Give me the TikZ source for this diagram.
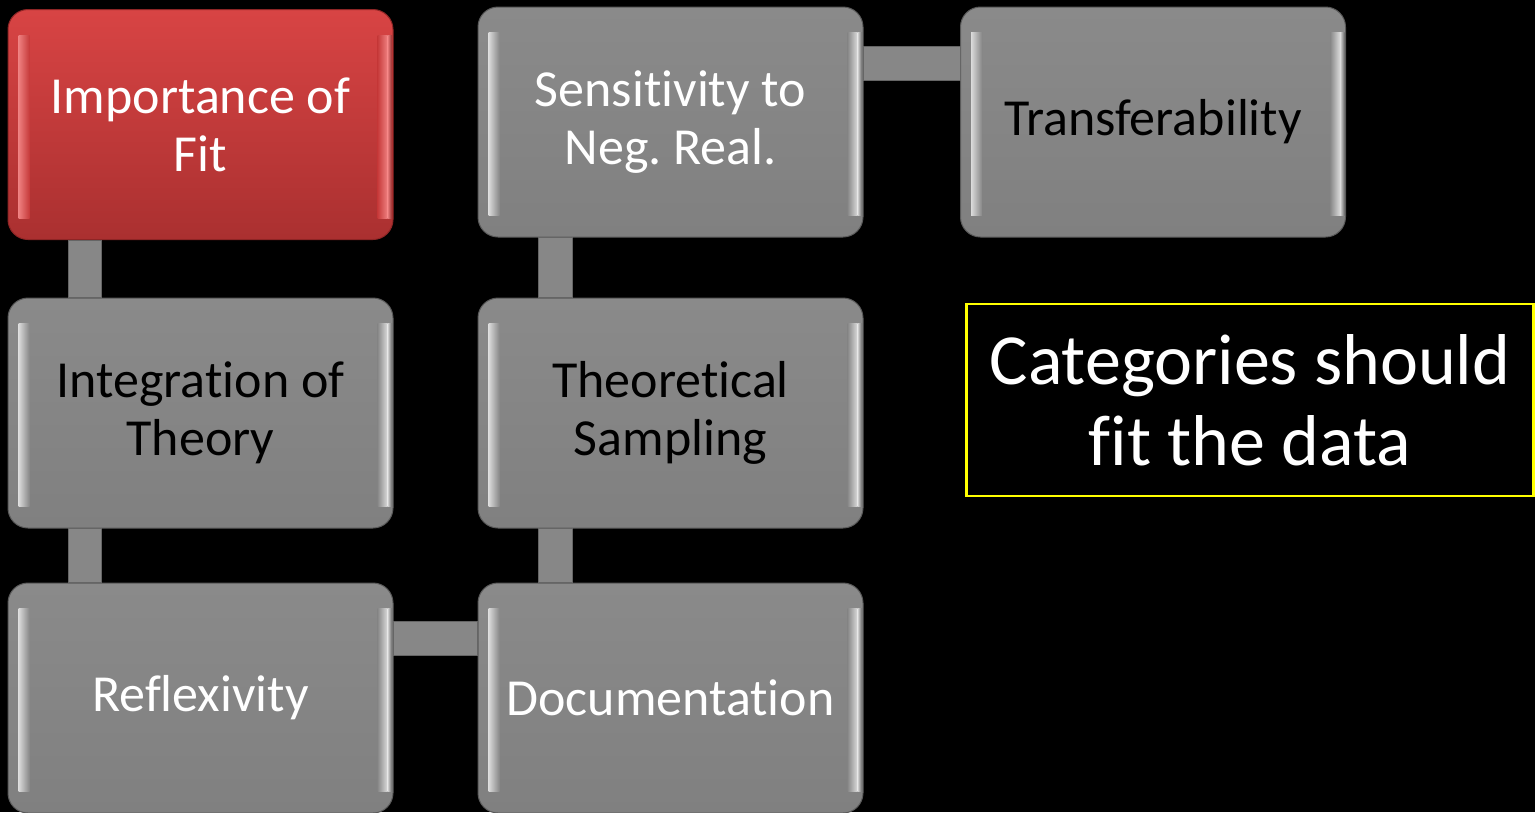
\documentclass[tikz,border=0pt]{standalone}
\usepackage{fontspec}
\setmainfont[Ligatures=NoCommon]{Carlito}
\usetikzlibrary{calc}
\frenchspacing
\definecolor{boxgray}{HTML}{878787}
\definecolor{graytop}{HTML}{8A8A8A}
\definecolor{graybot}{HTML}{808080}
\definecolor{edgegray}{HTML}{5A5A5A}
\definecolor{redtop}{HTML}{D84444}
\definecolor{redmid}{HTML}{C63A3A}
\definecolor{redbot}{HTML}{AA3030}
\definecolor{redhi}{HTML}{EE8080}
\definecolor{redge}{HTML}{8E2525}
\definecolor{noteyellow}{HTML}{FFFF00}
\newcommand\bevelhl[3]{%
  \shade[left color=#2, right color=#3] ([xshift=11pt,yshift=-26pt]#1.north west) rectangle ([xshift=22pt,yshift=22pt]#1.south west);
  \shade[left color=#3, right color=#2] ([xshift=-16pt,yshift=-26pt]#1.north east) rectangle ([xshift=-6pt,yshift=22pt]#1.south east);
  \shade[left color=#2, right color=#3!75!black] ([xshift=-6pt,yshift=-26pt]#1.north east) rectangle ([xshift=-1.5pt,yshift=22pt]#1.south east);
}
\begin{document}
\begin{tikzpicture}[x=1pt,y=-1pt,
  boxbase/.style={rounded corners=20pt, minimum width=385pt, minimum height=230pt,
    inner sep=0pt, align=center, font=\fontsize{52}{58}\selectfont, line width=1pt},
  graybox/.style={boxbase, draw=edgegray, top color=graytop, bottom color=graybot},
  redbox/.style={boxbase, draw=redge, top color=redtop, bottom color=redbot},
  notebox/.style={draw=noteyellow, line width=2.5pt, minimum width=567pt, minimum height=192pt,
    align=center, text=white, font=\fontsize{72}{81}\selectfont, inner sep=0pt},
  connfill/.style={fill=boxgray, draw=boxgray!75!black, line width=0.6pt}]
\useasboundingbox (0,0) rectangle (1535,812);
\fill[black] (0,0) rectangle (1535,812);

\node[redbox, text=white]  (imp)   at (200.5,124.5) {Importance of\\Fit};
\node[graybox, text=white] (sens)  at (670.5,122) {Sensitivity to\\Neg. Real.};
\node[graybox, text=black] (trans) at (1153,122) {Transferability};
\node[graybox, text=black] (integ) at (200.5,413) {Integration of\\Theory};
\node[graybox, text=black] (theo)  at (670.5,413) {Theoretical\\Sampling};
\node[graybox, text=white] (refl)  at (200.5,698) {Reflexivity};
\node[graybox, text=white] (doc)   at (670.5,698) {Documentation};

\bevelhl{imp}{redhi}{redmid}
\foreach \n in {sens,trans,integ,theo,refl,doc}{\bevelhl{\n}{white!70!boxgray}{boxgray}}

% connectors
\filldraw[connfill] ([xshift=61pt]imp.south west) rectangle ([xshift=94pt]integ.north west);
\filldraw[connfill] ([xshift=61pt]integ.south west) rectangle ([xshift=94pt]refl.north west);
\filldraw[connfill] ([xshift=61pt]theo.south west) rectangle ([xshift=95pt]doc.north west);
\filldraw[connfill] ([xshift=61pt]sens.south west) rectangle ([xshift=95pt]theo.north west);
\filldraw[connfill] ([yshift=-40pt]sens.north east) rectangle ([yshift=-74pt]trans.north west);
\filldraw[connfill] ([yshift=-39pt]refl.north east) rectangle ([yshift=-73pt]doc.north west);

\node[notebox] (note) at (1250,400) {Categories should\\fit the data};
\end{tikzpicture}
\end{document}
